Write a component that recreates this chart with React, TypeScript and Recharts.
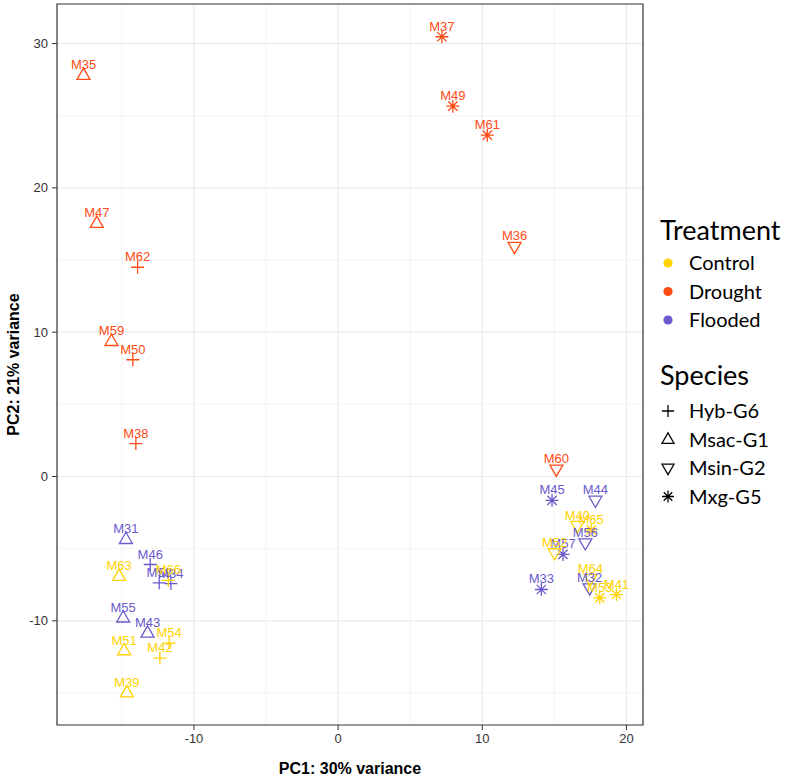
import React from "react";
import {
  ScatterChart,
  Scatter,
  XAxis,
  YAxis,
  CartesianGrid,
  ReferenceArea,
} from "recharts";

// PCA scores
const sampleNames = [
  "M35", "M47", "M62", "M59", "M50", "M38", "M37", "M49", "M61", "M36", "M60",
  "M31", "M46", "M58", "M34", "M55", "M43", "M45", "M44", "M56", "M57", "M33", "M32",
  "M63", "M66", "M54", "M51", "M42", "M39", "M40", "M65", "M52", "M64", "M53", "M41",
];
const pc1Values = [
  -17.66, -16.74, -13.91, -15.72, -14.24, -14.03, 7.2, 7.96, 10.35, 12.24, 15.14,
  -14.72, -13.03, -12.41, -11.6, -14.91, -13.22, 14.84, 17.85, 17.15, 15.6, 14.1, 17.45,
  -15.19, -11.78, -11.72, -14.84, -12.36, -14.65, 16.6, 17.55, 15.02, 17.5, 18.15, 19.31,
];
const pc2Values = [
  27.8, 17.55, 14.5, 9.36, 8.09, 2.28, 30.47, 25.66, 23.65, 15.94, 0.5,
  -4.36, -6.1, -7.37, -7.42, -9.8, -10.85, -1.65, -1.65, -4.6, -5.4, -7.83, -7.72,
  -6.91, -7.2, -11.54, -12.07, -12.58, -14.99, -3.4, -3.7, -5.29, -7.07, -8.41, -8.18,
];
const treatmentOf = [
  "Drought", "Drought", "Drought", "Drought", "Drought", "Drought", "Drought", "Drought", "Drought", "Drought", "Drought",
  "Flooded", "Flooded", "Flooded", "Flooded", "Flooded", "Flooded", "Flooded", "Flooded", "Flooded", "Flooded", "Flooded", "Flooded",
  "Control", "Control", "Control", "Control", "Control", "Control", "Control", "Control", "Control", "Control", "Control", "Control",
];
const speciesOf = [
  "Msac-G1", "Msac-G1", "Hyb-G6", "Msac-G1", "Hyb-G6", "Hyb-G6", "Mxg-G5", "Mxg-G5", "Mxg-G5", "Msin-G2", "Msin-G2",
  "Msac-G1", "Hyb-G6", "Hyb-G6", "Hyb-G6", "Msac-G1", "Msac-G1", "Mxg-G5", "Msin-G2", "Msin-G2", "Mxg-G5", "Mxg-G5", "Msin-G2",
  "Msac-G1", "Hyb-G6", "Hyb-G6", "Msac-G1", "Hyb-G6", "Msac-G1", "Msin-G2", "Mxg-G5", "Msin-G2", "Msin-G2", "Mxg-G5", "Mxg-G5",
];

const treatments = ["Control", "Drought", "Flooded"];
const treatmentColors = ["#FFD200", "#FF4B14", "#6A5ACD"];
const speciesNames = ["Hyb-G6", "Msac-G1", "Msin-G2", "Mxg-G5"];

const xTicks = [-10, 0, 10, 20];
const yTicks = [-10, 0, 10, 20, 30];
const xMinor = [-15, -5, 5, 15];
const yMinor = [-15, -5, 5, 15, 25];

const X_DOMAIN: [number, number] = [-19.5, 21.15];
const Y_DOMAIN: [number, number] = [-17.22, 32.74];

const points = sampleNames.map((name, i) => ({
  name,
  x: pc1Values[i],
  y: pc2Values[i],
  treatment: treatmentOf[i],
  species: speciesOf[i],
}));

const colorFor = (t: string) => treatmentColors[treatments.indexOf(t)];

function Glyph({ kind, x, y, color, s = 6.5 }: { kind: string; x: number; y: number; color: string; s?: number }) {
  const sw = 1.3;
  if (kind === "Hyb-G6") {
    return <path d={`M${x - s},${y}H${x + s}M${x},${y - s}V${y + s}`} stroke={color} strokeWidth={sw} fill="none" />;
  }
  if (kind === "Msac-G1") {
    return (
      <polygon
        points={`${x},${y - s * 1.1} ${x + s},${y + s * 0.63} ${x - s},${y + s * 0.63}`}
        stroke={color}
        strokeWidth={sw}
        fill="none"
      />
    );
  }
  if (kind === "Msin-G2") {
    return (
      <polygon
        points={`${x},${y + s * 1.1} ${x + s},${y - s * 0.63} ${x - s},${y - s * 0.63}`}
        stroke={color}
        strokeWidth={sw}
        fill="none"
      />
    );
  }
  const d = s * 0.71;
  return (
    <path
      d={`M${x - s},${y}H${x + s}M${x},${y - s}V${y + s}M${x - d},${y - d}L${x + d},${y + d}M${x - d},${y + d}L${x + d},${y - d}`}
      stroke={color}
      strokeWidth={sw}
      fill="none"
    />
  );
}

function PointShape(props: any) {
  const { cx, cy, payload } = props;
  return <Glyph kind={payload.species} x={cx} y={cy} color={colorFor(payload.treatment)} />;
}

function LabelShape(props: any) {
  const { cx, cy, payload } = props;
  return (
    <text x={cx} y={cy - 6} textAnchor="middle" fontSize={13} fill={colorFor(payload.treatment)}>
      {payload.name}
    </text>
  );
}

function LegendOverlay() {
  const legendFont = "Lato, 'Open Sans', sans-serif";
  const tRows = [263, 291.5, 320];
  const sRows = [411, 439.5, 468, 496.5];
  return (
    <svg width={797} height={778} style={{ position: "absolute", left: 0, top: 0, pointerEvents: "none" }}>
      <text x={660} y={240} fontSize={27} fontFamily={legendFont} fill="#000">
        Treatment
      </text>
      {treatments.map((t, i) => (
        <g key={t}>
          <circle cx={668} cy={tRows[i]} r={4.6} fill={treatmentColors[i]} />
          <text x={689} y={tRows[i] + 7} fontSize={20} fontFamily={legendFont} fill="#000">
            {t}
          </text>
        </g>
      ))}
      <text x={660} y={385} fontSize={27} fontFamily={legendFont} fill="#000">
        Species
      </text>
      {speciesNames.map((s, i) => (
        <g key={s}>
          <Glyph kind={s} x={668} y={sRows[i]} color="#000" s={6} />
          <text x={689} y={sRows[i] + 7} fontSize={20} fontFamily={legendFont} fill="#000">
            {s}
          </text>
        </g>
      ))}
    </svg>
  );
}

export default function App() {
  return (
    <div style={{ position: "relative", width: 797, height: 778, fontFamily: "'Liberation Sans', Arial, sans-serif" }}>
      <style>{`body{margin:0}`}</style>
      <ScatterChart width={797} height={778} margin={{ top: 4, right: 154, bottom: 0, left: 0 }}>
        <CartesianGrid verticalValues={xMinor} horizontalValues={yMinor} stroke="#EBEBEB" strokeWidth={0.6} />
        <CartesianGrid verticalValues={xTicks} horizontalValues={yTicks} stroke="#EBEBEB" strokeWidth={1.2} />
        <XAxis
          type="number"
          dataKey="x"
          domain={X_DOMAIN}
          ticks={xTicks}
          allowDataOverflow
          height={53}
          axisLine={false}
          tickLine={{ stroke: "#333333" }}
          tickSize={5}
          tickMargin={4}
          tick={{ fill: "#333333", fontSize: 13 }}
          label={{
            value: "PC1: 30% variance",
            position: "insideBottom",
            offset: 4,
            style: { fill: "#000", fontSize: 16, fontWeight: "bold" },
          }}
        />
        <YAxis
          type="number"
          dataKey="y"
          domain={Y_DOMAIN}
          ticks={yTicks}
          allowDataOverflow
          width={57}
          axisLine={false}
          tickLine={{ stroke: "#333333" }}
          tickSize={5}
          tickMargin={4}
          tick={{ fill: "#333333", fontSize: 13 }}
          label={{
            value: "PC2: 21% variance",
            angle: -90,
            position: "insideLeft",
            offset: 13,
            style: { fill: "#000", fontSize: 16, fontWeight: "bold", textAnchor: "middle" },
          }}
        />
        <ReferenceArea
          x1={X_DOMAIN[0]}
          x2={X_DOMAIN[1]}
          y1={Y_DOMAIN[0]}
          y2={Y_DOMAIN[1]}
          fill="none"
          stroke="#333333"
          strokeWidth={1.2}
          ifOverflow="visible"
        />
        <Scatter data={points} shape={PointShape} isAnimationActive={false} />
        <Scatter data={points} shape={LabelShape} isAnimationActive={false} />
      </ScatterChart>
      <LegendOverlay />
    </div>
  );
}
